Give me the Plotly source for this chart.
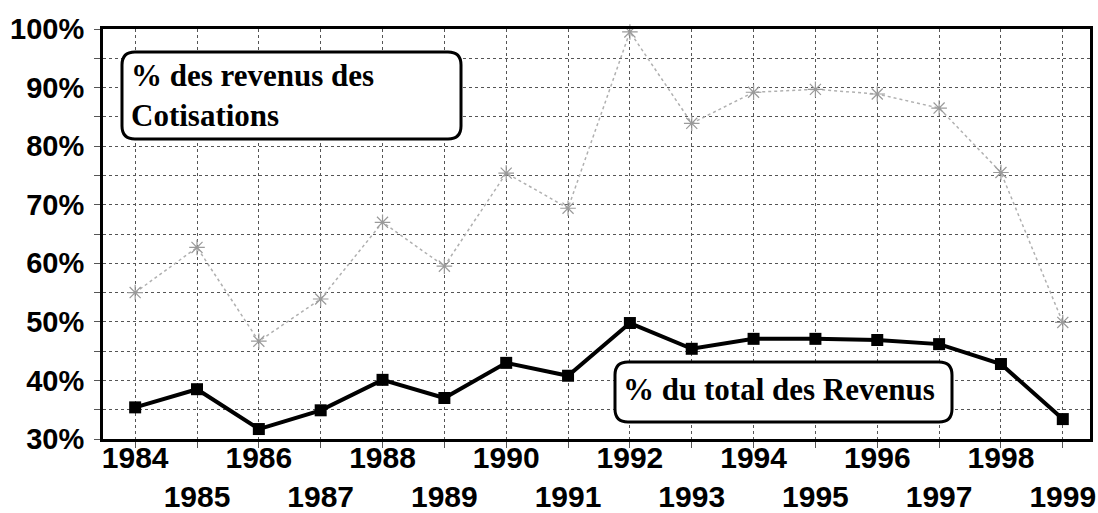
import plotly.graph_objects as go

years = list(range(1984, 2000))
total_revenus = [35.4, 38.5, 31.7, 34.9, 40.1, 37.0, 43.0, 40.8, 49.8, 45.4, 47.1, 47.1, 46.9, 46.2, 42.8, 33.4]
cotisations = [55.0, 62.7, 46.7, 53.9, 67.0, 59.5, 75.4, 69.4, 99.5, 83.9, 89.2, 89.7, 88.9, 86.5, 75.5, 49.9]
tick_labels = [str(y) if y % 2 == 0 else "<br>" + str(y) for y in years]
y_ticks = [30, 40, 50, 60, 70, 80, 90, 100]
y_labels = [f"{v}%" for v in y_ticks]

W, H = 1098, 513
L, R, T, B = 103, 1090, 29, 439

fig = go.Figure()
fig.add_trace(go.Scatter(
    x=years, y=cotisations, mode="lines+markers",
    line=dict(color="#b0b0b0", width=1.5, dash="dot"),
    marker=dict(symbol="asterisk-open", size=13, color="#9a9a9a", line=dict(color="#9a9a9a", width=1.2)),
    cliponaxis=False, showlegend=False))
fig.add_trace(go.Scatter(
    x=years, y=total_revenus, mode="lines+markers",
    line=dict(color="black", width=4),
    marker=dict(symbol="square", size=12, color="black"),
    cliponaxis=False, showlegend=False))


def px2paper(px, py):
    return (px - L) / (R - L), (B - py) / (B - T)


def rounded_box(x0, y0, x1, y1, r):
    def P(px, py):
        a, b = px2paper(px, py)
        return f"{a:.5f},{b:.5f}"
    path = (f"M {P(x0 + r, y0)} L {P(x1 - r, y0)} Q {P(x1, y0)} {P(x1, y0 + r)} "
            f"L {P(x1, y1 - r)} Q {P(x1, y1)} {P(x1 - r, y1)} "
            f"L {P(x0 + r, y1)} Q {P(x0, y1)} {P(x0, y1 - r)} "
            f"L {P(x0, y0 + r)} Q {P(x0, y0)} {P(x0 + r, y0)} Z")
    return dict(type="path", xref="paper", yref="paper", path=path,
                line=dict(color="black", width=3), fillcolor="white", layer="above")


fig.add_shape(**rounded_box(122, 52, 461, 139, 13))
fig.add_shape(**rounded_box(615, 362, 952, 422, 13))

ax, ay = px2paper(129, 95)
fig.add_annotation(x=ax, y=ay, xref="paper", yref="paper", xanchor="left", yanchor="middle",
                   text="<b>% des revenus des<br>Cotisations</b>", align="left", showarrow=False,
                   font=dict(family="Liberation Serif", size=31, color="black"))
bx, by = px2paper(779, 389)
fig.add_annotation(x=bx, y=by, xref="paper", yref="paper", xanchor="center", yanchor="middle",
                   text="<b>% du total des Revenus</b>", showarrow=False,
                   font=dict(family="Liberation Serif", size=31, color="black"))

grid_col = "#555555"
fig.update_xaxes(
    range=[1983.48, 1999.44], tickmode="array", tickvals=years, ticktext=tick_labels,
    tickangle=0, automargin=False, ticklabelstandoff=-16,
    showgrid=True, gridcolor=grid_col, griddash="dot", gridwidth=1,
    showline=True, linecolor="black", linewidth=3, mirror=True,
    ticks="outside", ticklen=6, tickcolor=grid_col, tickwidth=1,
    tickfont=dict(family="Liberation Sans", size=30, color="black", weight="bold"),
    zeroline=False)
fig.update_yaxes(
    range=[30, 100], tickmode="array", tickvals=y_ticks, ticktext=y_labels,
    automargin=False, ticklabelstandoff=4,
    showgrid=True, gridcolor=grid_col, griddash="dot", gridwidth=1,
    minor=dict(dtick=5, showgrid=True, gridcolor=grid_col, griddash="dot", gridwidth=1,
               ticks="outside", ticklen=6, tickcolor=grid_col),
    showline=True, linecolor="black", linewidth=3, mirror=True,
    ticks="outside", ticklen=6, tickcolor=grid_col, tickwidth=1,
    tickfont=dict(family="Liberation Sans", size=29, color="black", weight="bold"),
    zeroline=False)

fig.update_layout(
    width=W, height=H, margin=dict(l=L, r=W - R, t=T, b=H - B, pad=0),
    paper_bgcolor="white", plot_bgcolor="white")

fig.write_html("out.html", config={"displayModeBar": False},
               post_script="document.body.style.margin='0';document.body.style.overflow='hidden';")
